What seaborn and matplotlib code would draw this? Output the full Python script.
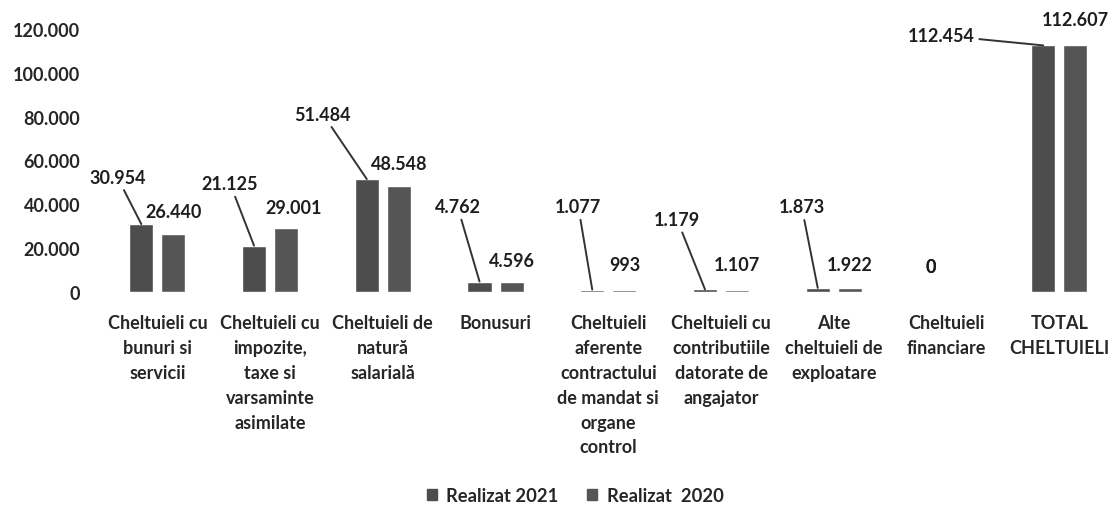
import matplotlib
matplotlib.use("Agg")
import matplotlib.pyplot as plt
import seaborn as sns
import pandas as pd
from matplotlib.patches import Patch

# ---- data ----
categories = [
    "Cheltuieli cu\nbunuri si\nservicii",
    "Cheltuieli cu\nimpozite,\ntaxe si\nvarsaminte\nasimilate",
    "Cheltuieli de\nnatură\nsalarială",
    "Bonusuri",
    "Cheltuieli\naferente\ncontractului\nde mandat si\norgane\ncontrol",
    "Cheltuieli cu\ncontributiile\ndatorate de\nangajator",
    "Alte\ncheltuieli de\nexploatare",
    "Cheltuieli\nfinanciare",
    "TOTAL\nCHELTUIELI",
]
realizat_2021 = [30954, 21125, 51484, 4762, 1077, 1179, 1873, 0, 112454]
realizat_2020 = [26440, 29001, 48548, 4596, 993, 1107, 1922, 0, 112607]
series_names = ["Realizat 2021", "Realizat  2020"]
y_ticks = [0, 20000, 40000, 60000, 80000, 100000, 120000]

# ---- label layout (pixel offsets from bar top centre; leader line flag) ----
off_2021 = [(-24, 47, True), (-24, 62, True), (-44, 65, True), (-22, 75, True),
            (-14, 83, True), (-28, 70, True), (-16, 81, True), (0, 25, False),
            (-102, 10, True)]
off_2020 = [(0, 22, False), (7, 21, False), (0, 22, False), (0, 21, False),
            (0, 25, False), (0, 25, False), (0, 23, False), (-32, 25, False),
            (0, 26, False)]

df = pd.DataFrame({
    "cat": categories * 2,
    "val": realizat_2021 + realizat_2020,
    "series": [series_names[0]] * len(categories) + [series_names[1]] * len(categories),
})

sns.set_style("white")
plt.rcParams["font.family"] = ["Lato", "DejaVu Sans"]

fig = plt.figure(figsize=(11.10, 5.06), dpi=100)
ax = fig.add_axes([0.091, 0.421, 0.909, 0.520])

colors = ["#4d4d4d", "#555555"]
sns.barplot(data=df, x="cat", y="val", hue="series", hue_order=series_names,
            palette=colors, width=0.57, gap=0.25, ax=ax, legend=False,
            saturation=1)

TXT = "#262626"
ax.set_ylim(0, 120000)
ax.set_xlim(-0.5, 8.45)
ax.set_yticks(y_ticks)
ax.set_yticklabels([f"{v:,}".replace(",", ".") for v in y_ticks],
                   fontsize=13, color=TXT, fontweight="bold")
ax.tick_params(axis="y", length=0, pad=15)
ax.tick_params(axis="x", length=0, pad=16)
ax.set_xticks(range(len(categories)))
ax.set_xticklabels(categories, fontsize=13, color=TXT,
                   fontweight="bold", linespacing=1.56, va="top", ha="center")
ax.set_xlabel("")
ax.set_ylabel("")
for s in ax.spines.values():
    s.set_visible(False)
ax.grid(False)

def fmt(v):
    return f"{v:,}".replace(",", ".")

for cont, vals, offs in zip(ax.containers, [realizat_2021, realizat_2020], [off_2021, off_2020]):
    for patch, v, (dx, dy, lead) in zip(cont.patches, vals, offs):
        xc = patch.get_x() + patch.get_width() / 2
        yt = patch.get_height()
        kw = {}
        if lead:
            kw["arrowprops"] = dict(arrowstyle="-", color="#333333", lw=1.4,
                                    shrinkA=1, shrinkB=0)
        ax.annotate(fmt(v), xy=(xc, yt), xytext=(dx, dy),
                    textcoords="offset pixels", ha="center", va="center",
                    fontsize=13, color="#1e1e1e", fontweight="bold",
                    annotation_clip=False, **kw)

handles = [Patch(facecolor=c, edgecolor=c) for c in colors]
fig.legend(handles, series_names, loc="lower center", bbox_to_anchor=(0.518, 0.002),
           ncol=2, frameon=False, handlelength=0.55, handleheight=0.55,
           handletextpad=0.5, columnspacing=1.6, borderaxespad=0, borderpad=0,
           prop={"size": 13.2, "weight": "bold"}, labelcolor=TXT)

fig.savefig("out.png", dpi=100)
